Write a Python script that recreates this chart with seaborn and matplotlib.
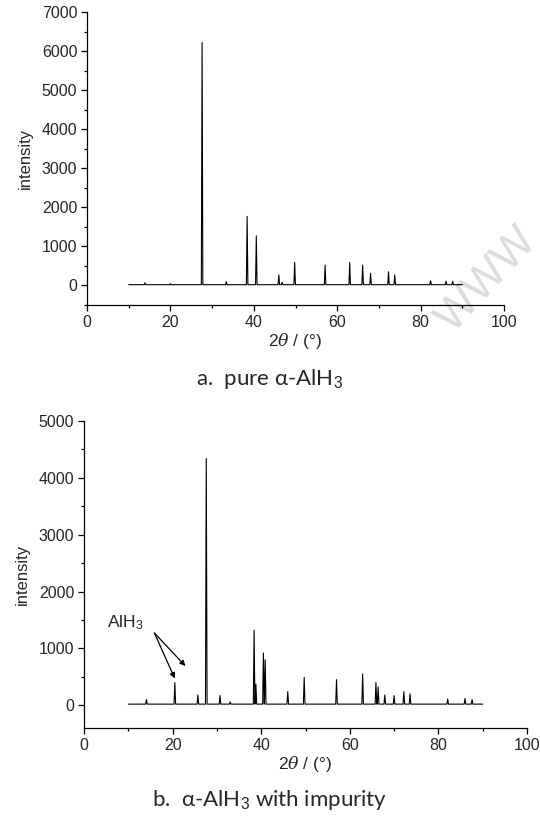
import numpy as np
import pandas as pd
import matplotlib
matplotlib.use("Agg")
import matplotlib.pyplot as plt
from matplotlib.ticker import MultipleLocator
import seaborn as sns

# peak positions (2theta, deg) and heights above baseline
pure_pos = [13.9, 20.0, 27.6, 33.4, 38.4, 40.6, 46.0, 46.8, 49.8, 57.1,
            63.0, 66.1, 68.0, 72.3, 73.8, 82.4, 86.1, 87.7]
pure_int = [50, 25, 6200, 80, 1750, 1250, 250, 60, 570, 500,
            570, 500, 290, 330, 250, 100, 90, 90]

imp_pos = [14.1, 20.5, 25.7, 27.6, 30.7, 33.0, 38.4, 38.8, 40.5, 40.9,
           46.0, 49.7, 57.0, 62.9, 65.9, 66.4, 67.9, 70.0, 72.2, 73.6,
           82.1, 86.0, 87.6]
imp_int = [80, 380, 160, 4320, 150, 40, 1300, 350, 900, 780,
           220, 470, 430, 530, 380, 300, 160, 150, 220, 180,
           90, 100, 80]

scan_start, scan_end = 10, 90
baseline = 20
half_width = 0.18

# axis settings
pure_ylim = (-500, 7000)
imp_ylim = (-400, 5000)
x_ticks = [0, 20, 40, 60, 80, 100]


def pattern(pos, inten):
    # turn the peak list into a stick-like line: flat baseline with narrow triangles
    xs, ys = [scan_start], [baseline]
    for p, h in zip(pos, inten):
        xs += [p - half_width, p, p + half_width]
        ys += [baseline, baseline + h, baseline]
    xs.append(scan_end)
    ys.append(baseline)
    return pd.DataFrame({"two_theta": xs, "intensity": ys})


sns.set_style("ticks")
tick_font = ["Liberation Sans", "DejaVu Sans"]
plt.rcParams["font.family"] = tick_font
plt.rcParams["mathtext.fontset"] = "custom"
plt.rcParams["mathtext.it"] = "DejaVu Serif:italic"
plt.rcParams["mathtext.rm"] = "Liberation Sans"

fig = plt.figure(figsize=(5.4, 8.16), dpi=100)

# faint watermark, drawn first so it stays behind the top chart
fig.text(487 / 540, 1 - 280 / 816, "WWW", rotation=47, ha="center", va="center",
         fontsize=32, color="#dcdcdc", zorder=-1)

ax1 = fig.add_axes([87 / 540, 1 - 305 / 816, 417 / 540, 293 / 816])
ax2 = fig.add_axes([84 / 540, 1 - 728 / 816, 443 / 540, 307 / 816])
ax1.patch.set_alpha(0)

for ax, pos, inten, ylim in [(ax1, pure_pos, pure_int, pure_ylim),
                             (ax2, imp_pos, imp_int, imp_ylim)]:
    df = pattern(pos, inten)
    sns.lineplot(data=df, x="two_theta", y="intensity", ax=ax, color="black",
                 linewidth=0.8, estimator=None, sort=True)
    ax.set_xlim(0, 100)
    ax.set_xticks(x_ticks)
    ax.xaxis.set_minor_locator(MultipleLocator(10))
    ax.yaxis.set_major_locator(MultipleLocator(1000))
    ax.yaxis.set_minor_locator(MultipleLocator(500))
    ax.set_ylim(*ylim)
    ax.tick_params(axis="both", which="major", direction="out", length=4,
                   width=0.9, labelsize=11.5, pad=3, color="black")
    ax.tick_params(axis="both", which="minor", direction="out", length=2.5,
                   width=0.9, color="black")
    for s in ["top", "right"]:
        ax.spines[s].set_visible(False)
    for s in ["left", "bottom"]:
        ax.spines[s].set_linewidth(0.9)
        ax.spines[s].set_color("black")
    ax.set_xlabel(r"2$\it{\theta}$ / (°)", fontsize=12.5, labelpad=1)
    ax.set_ylabel("intensity", fontsize=12, labelpad=6)

# annotation of the impurity peaks
ax2.text(9.3, 1450, r"AlH$_3$", fontsize=12.5, ha="center", va="center")
ax2.annotate("", xy=(20.5, 470), xytext=(15.9, 1270),
             arrowprops=dict(arrowstyle="-|>", color="black", lw=0.9,
                             mutation_scale=8, shrinkA=0, shrinkB=0))
ax2.annotate("", xy=(22.9, 690), xytext=(15.9, 1270),
             arrowprops=dict(arrowstyle="-|>", color="black", lw=0.9,
                             mutation_scale=8, shrinkA=0, shrinkB=0))

# captions
cap_font = ["Lato", "DejaVu Sans"]
fig.text(0.5, 1 - 379 / 816, r"a.  pure α-AlH$_3$", ha="center", va="center",
         fontsize=16, family=cap_font)
fig.text(0.5, 1 - 800 / 816, r"b.  α-AlH$_3$ with impurity", ha="center",
         va="center", fontsize=16, family=cap_font)

fig.savefig("out.png", dpi=100)
